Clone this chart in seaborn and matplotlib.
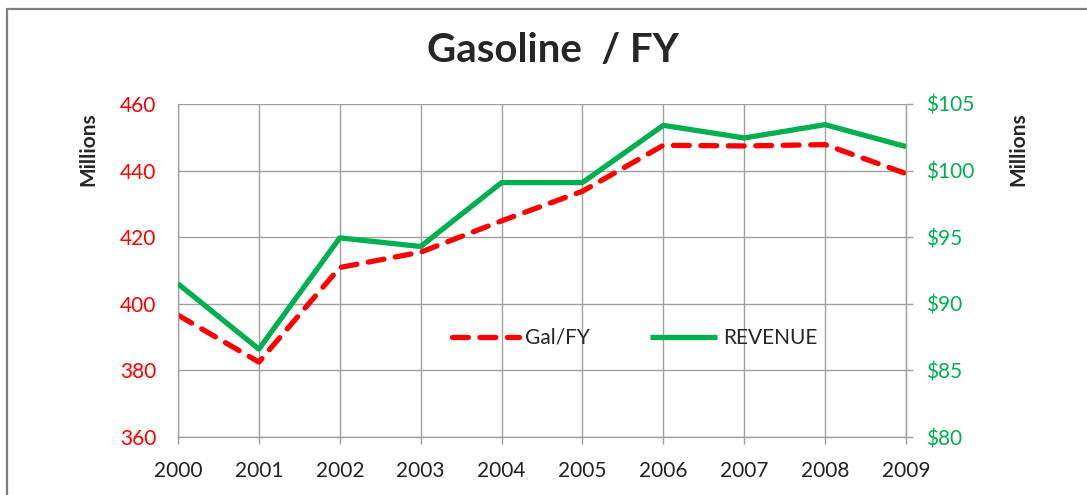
"""Recreate the 'Gasoline / FY' dual-axis line chart."""

import matplotlib.pyplot as plt
import pandas as pd
import seaborn as sns
from matplotlib.lines import Line2D

years = [2000, 2001, 2002, 2003, 2004, 2005, 2006, 2007, 2008, 2009]
gallons = [396.6, 382.5, 410.9, 415.5, 424.9, 433.8, 447.6, 447.4, 447.8, 439.1]
revenue = [91.5, 86.6, 94.95, 94.3, 99.1, 99.1, 103.4, 102.45, 103.45, 101.8]

left_ticks = [360, 380, 400, 420, 440, 460]
right_ticks = [80, 85, 90, 95, 100, 105]

RED = "#FF0000"
GREEN = "#00B050"
GRID = "#A0A0A0"

sns.set_style("white")
plt.rcParams["font.family"] = ["Lato", "DejaVu Sans"]

df = pd.DataFrame({"year": years, "gallons": gallons, "revenue": revenue})

fig = plt.figure(figsize=(10.87, 4.95), dpi=100)
ax = fig.add_axes([178 / 1087, 1 - 437 / 495, (906 - 178) / 1087, (437 - 104) / 495])
ax2 = ax.twinx()

sns.lineplot(data=df, x="year", y="gallons", ax=ax, color=RED, linewidth=3.8,
             label="Gal/FY", legend=False)
ax.lines[0].set_dashes((3.0, 2.2))
ax.lines[0].set_dash_capstyle("round")
sns.lineplot(data=df, x="year", y="revenue", ax=ax2, color=GREEN, linewidth=3.8,
             label="REVENUE", legend=False)
ax2.lines[0].set_solid_capstyle("butt")

ax.set_xlim(years[0], years[-1])
ax.set_ylim(left_ticks[0], left_ticks[-1])
ax2.set_ylim(right_ticks[0], right_ticks[-1])
ax.set_xticks(years)
ax.set_yticks(left_ticks)
ax2.set_yticks(right_ticks)
ax2.set_yticklabels([f"${t}" for t in right_ticks])

ax.grid(True, color=GRID, linewidth=1.0)
ax.set_axisbelow(True)
for spine in ax.spines.values():
    spine.set_color(GRID)
    spine.set_linewidth(1.0)
ax.spines["top"].set_visible(False)
for spine in ax2.spines.values():
    spine.set_visible(False)

ax.tick_params(axis="x", length=5, width=1.0, color=GRID, pad=12,
               labelsize=15, labelcolor="#222222", direction="out", bottom=True)
ax.tick_params(axis="y", length=0, pad=15.5, labelsize=15, labelcolor=RED)
ax2.tick_params(axis="y", length=5, width=1.0, color=GRID, pad=9.5,
                labelsize=15, labelcolor=GREEN, direction="out")
ax.set_xlabel("")
ax.set_ylabel("")
ax2.set_ylabel("")

handles = [ax.lines[0], ax2.lines[0]]
leg = ax.legend(handles, ["Gal/FY", "REVENUE"], ncol=2, frameon=False,
                loc="center", bbox_to_anchor=((635 - 178) / 728, (437 - 338) / 333),
                fontsize=15, handlelength=3.2, columnspacing=2.9, handletextpad=0.3)

fig.text(553 / 1087, 1 - 51 / 495, "Gasoline  / FY", ha="center", va="center",
         fontsize=29, fontweight="bold")
fig.text(88 / 1087, 1 - 149 / 495, "Millions", rotation=90, ha="center",
         va="center", fontsize=15, fontweight="bold")
fig.text(1018 / 1087, 1 - 149 / 495, "Millions", rotation=90, ha="center",
         va="center", fontsize=15, fontweight="bold")

# chart-area frame, cut off at the right and bottom edges
fig.add_artist(Line2D([7 / 1087, 1.0], [1 - 9 / 495] * 2, color="#808080",
                      linewidth=1.6, transform=fig.transFigure))
fig.add_artist(Line2D([7 / 1087] * 2, [0.0, 1 - 9 / 495], color="#808080",
                      linewidth=1.6, transform=fig.transFigure))

fig.savefig("out.png", dpi=100)
